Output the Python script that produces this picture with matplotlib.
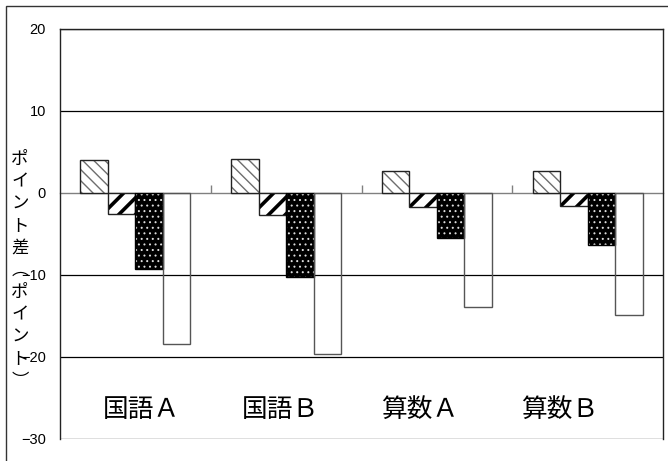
import matplotlib
matplotlib.use("Agg")
import matplotlib.pyplot as plt
from matplotlib.patches import Rectangle
import numpy as np

categories = ["国語Ａ", "国語Ｂ", "算数Ａ", "算数Ｂ"]
series1 = [4.0, 4.2, 2.7, 2.7]
series2 = [-2.6, -2.7, -1.75, -1.6]
series3 = [-9.3, -10.2, -5.5, -6.3]
series4 = [-18.4, -19.6, -13.9, -14.9]
y_ticks = [20, 10, 0, -10, -20, -30]
ylabel_text = "ポイント差︵ポイント︶"

W, H = 668, 461
fig = plt.figure(figsize=(W / 100, H / 100), dpi=100)
ax = fig.add_axes([60 / W, 22 / H, 603 / W, 410 / H])

x = np.arange(len(categories))
bw = 0.1824
offs = np.array([-1.5, -0.5, 0.5, 1.5]) * bw


def hatched(vals, off, face, hcolor, hatch, hlw, outline, olw=1.0, zo=3):
    with plt.rc_context({"hatch.linewidth": hlw}):
        bars = ax.bar(x + off, vals, bw, color=face, edgecolor=hcolor,
                      hatch=hatch, linewidth=0, zorder=zo)
    for b in bars:
        if hasattr(b, "set_hatch_linewidth"):
            b.set_hatch_linewidth(hlw)
    ax.bar(x + off, vals, bw, fill=False, edgecolor=outline,
           linewidth=olw, zorder=zo + 0.5)


hatched(series1, offs[0], "white", "#6e6e6e", "\\\\\\", 1.0, "#222222")
hatched(series2, offs[1], "white", "black", "//", 2.6, "#222222")
hatched(series3, offs[2], "black", "#dddddd", "...", 0.7, "black")
ax.bar(x + offs[3], series4, bw, fill=False, edgecolor="#555555",
       linewidth=1.0, zorder=3.5)

ax.set_xlim(-0.5, len(categories) - 0.5)
ax.set_ylim(-30, 20)
ax.set_yticks(y_ticks)
ax.tick_params(axis="y", length=0, pad=10, labelsize=10.5)
for lab in ax.get_yticklabels():
    lab.set_fontfamily(["Liberation Sans", "DejaVu Sans"])

ax.yaxis.grid(True, color="black", linewidth=0.9, zorder=1)
ax.set_axisbelow(True)
for t, v in zip(ax.yaxis.get_major_ticks(), ax.get_yticks()):
    if v == 0:
        t.gridline.set_visible(False)

# category axis at zero
ax.spines["bottom"].set_position(("data", 0))
ax.spines["bottom"].set_color("#808080")
ax.spines["bottom"].set_linewidth(1.0)
ax.spines["bottom"].set_zorder(2)
ax.set_xticks(np.arange(len(categories) - 1) + 0.5)
ax.tick_params(axis="x", direction="in", length=6, color="#808080",
               width=1.0, labelbottom=False)
for s in ["left", "right", "top"]:
    ax.spines[s].set_color("#222222")
    ax.spines[s].set_linewidth(1.0)

# category labels (placed as text boxes)
label_x_px = [141, 280, 420, 560]
for lx, c in zip(label_x_px, categories):
    fig.text(lx / W, 1 - 410 / H, c, ha="center", va="center",
             fontsize=18.5, family=["Noto Sans CJK JP", "DejaVu Sans"])

# vertical y label
fig.text(20 / W, 1 - 270 / H, "\n".join(ylabel_text), ha="center",
         va="center", fontsize=12.5, linespacing=1.3,
         family=["Noto Sans CJK JP", "DejaVu Sans"])

# outer frame
fig.add_artist(Rectangle((5.5 / W, -0.1), 1.2, 1.1 - 6 / H, fill=False,
                         edgecolor="#333333", linewidth=1.0,
                         transform=fig.transFigure, clip_on=False))

fig.savefig("out.png", dpi=100)
